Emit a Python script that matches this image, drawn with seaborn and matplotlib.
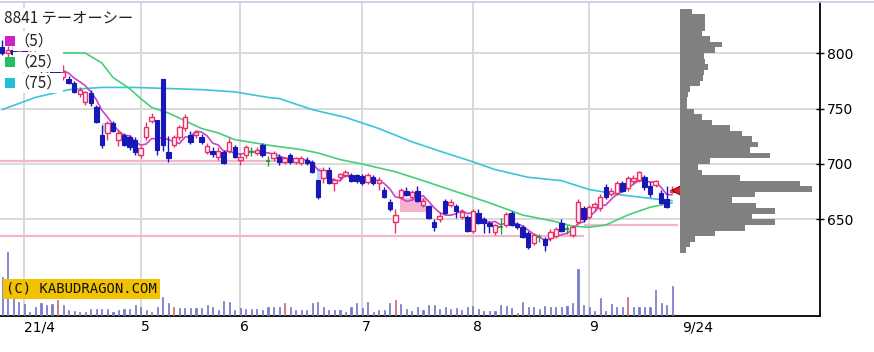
import numpy as np
import pandas as pd
import matplotlib
matplotlib.use("Agg")
import matplotlib.pyplot as plt
from matplotlib.patches import Rectangle
from matplotlib.lines import Line2D
import seaborn as sns

sns.set_theme(style="white")
plt.rcParams["font.family"] = ["Noto Sans CJK JP", "DejaVu Sans"]

# ---------------- data ----------------
title = "8841 テーオーシー"
ma_labels = ["（5）", "（25）", "（75）"]

opens = [805, 800, 803, 798, 802, 798, 800, 790, 784, 787,
         785, 778, 777, 773, 763, 756, 764, 751, 726, 728,
         737, 722, 726, 724, 722, 708, 724, 739, 740, 777,
         711, 717, 724, 732, 726, 726, 724, 711, 712, 706,
         711, 712, 715, 704, 708, 711, 710, 717, 703, 705,
         706, 702, 708, 702, 701, 704, 702, 686, 687, 695,
         683, 688, 690, 690, 690, 689, 684, 688, 683, 677,
         666, 648, 670, 676, 670, 676, 663, 662, 648, 650,
         667, 663, 662, 652, 652, 640, 656, 650, 647, 639,
         643, 645, 656, 646, 643, 638, 629, 634, 632, 633,
         635, 647, 641, 636, 648, 660, 652, 661, 660, 679,
         673, 674, 683, 678, 685, 686, 688, 680, 681, 674,
         668, 675]
highs = [812, 806, 808, 805, 806, 803, 802, 795, 790, 789,
         788, 789, 779, 775, 769, 766, 767, 753, 735, 739,
         739, 731, 728, 726, 724, 716, 738, 746, 740, 777,
         725, 726, 735, 745, 730, 730, 727, 719, 715, 715,
         713, 723, 717, 710, 717, 715, 715, 719, 707, 712,
         709, 706, 710, 706, 707, 706, 704, 686, 697, 697,
         687, 692, 695, 692, 691, 691, 692, 690, 688, 679,
         668, 659, 678, 679, 677, 680, 669, 663, 650, 657,
         668, 668, 664, 659, 654, 659, 659, 652, 649, 646,
         651, 657, 658, 648, 645, 640, 638, 637, 634, 641,
         643, 650, 645, 645, 668, 662, 663, 666, 673, 682,
         678, 685, 685, 689, 690, 694, 690, 684, 686, 677,
         680, 680]
lows = [798, 795, 797, 795, 796, 794, 790, 782, 780, 781,
        781, 776, 772, 764, 760, 753, 752, 737, 714, 722,
        729, 716, 716, 713, 708, 705, 722, 737, 708, 712,
        702, 715, 722, 730, 718, 723, 718, 709, 706, 704,
        700, 710, 705, 699, 705, 707, 708, 706, 698, 703,
        699, 700, 700, 700, 699, 699, 692, 668, 683, 682,
        676, 685, 688, 684, 683, 681, 682, 681, 677, 669,
        658, 638, 668, 671, 668, 666, 661, 650, 640, 648,
        655, 661, 651, 650, 639, 638, 646, 638, 638, 636,
        637, 643, 644, 641, 633, 623, 627, 630, 622, 631,
        633, 639, 637, 634, 646, 648, 650, 658, 658, 668,
        671, 672, 675, 676, 682, 684, 677, 670, 679, 664,
        660, 674]
closes = [800, 803, 799, 802, 798, 800, 792, 786, 787, 783,
          783, 783, 773, 765, 767, 765, 755, 738, 717, 737,
          730, 728, 717, 715, 711, 714, 733, 742, 713, 717,
          705, 724, 733, 742, 720, 729, 720, 716, 709, 712,
          701, 720, 706, 706, 715, 711, 713, 708, 703, 710,
          702, 705, 702, 705, 705, 701, 693, 670, 695, 683,
          686, 691, 693, 685, 685, 683, 690, 683, 686, 670,
          659, 654, 677, 672, 675, 667, 667, 651, 643, 653,
          656, 666, 658, 657, 640, 658, 647, 647, 644, 645,
          643, 655, 645, 643, 634, 625, 636, 634, 627, 639,
          641, 640, 641, 643, 666, 650, 661, 664, 670, 670,
          676, 683, 676, 687, 687, 693, 679, 673, 685, 665,
          661, 677]
volumes = [39, 64, 19, 14, 12, 4, 9, 13, 11, 12,
           16, 11, 6, 5, 4, 4, 7, 7, 7, 7,
           4, 6, 7, 7, 11, 9, 6, 4, 9, 19,
           13, 9, 8, 8, 8, 8, 8, 11, 9, 6,
           15, 14, 6, 8, 7, 7, 7, 6, 9, 9,
           9, 13, 9, 6, 6, 6, 13, 14, 9, 6,
           6, 6, 4, 9, 13, 8, 14, 4, 6, 6,
           13, 16, 12, 7, 5, 9, 6, 11, 11, 7,
           9, 7, 8, 6, 9, 10, 7, 5, 5, 5,
           11, 10, 8, 3, 14, 9, 9, 7, 10, 9,
           9, 9, 10, 13, 47, 11, 9, 5, 18, 5,
           12, 9, 9, 19, 9, 9, 9, 9, 26, 13,
           11, 30]
red_volume_days = [10, 31, 51, 71, 93, 113]

ma25_idx = [7, 15, 18, 20, 23, 25, 27, 30, 33, 36, 39, 42, 48, 54, 57,
            61, 65, 71, 76, 82, 88, 94, 100, 103, 106, 109, 113, 117, 121]
ma25_val = [800, 800, 791, 778, 768, 759, 751, 746, 739, 732, 728, 722, 717,
            713, 710, 704, 700, 693, 685, 675, 665, 654, 648, 644, 643, 645,
            654, 661, 665]
ma75_idx = [0, 6, 12, 18, 24, 30, 36, 42, 48, 50, 56, 62, 68, 74, 80, 85,
            89, 95, 101, 106, 112, 117, 121]
ma75_val = [749, 760, 767, 769, 769, 768, 767, 765, 760, 759, 749, 742, 732,
            720, 710, 702, 695, 688, 685, 677, 672, 669, 667]

month_idx = [4, 25, 43, 65, 85, 106]
month_labels = ["21/4", "5", "6", "7", "8", "9"]
last_label = "9/24"

# support lines: (price, from day, to day)
support_lines = [(703, -0.5, 51), (635, -0.5, 105), (645, 105, 122)]
# price gaps (windows): (from day, to day, low, high, kind)
gaps = [(18.0, 19.6, 729, 737, "down"), (56.9, 57.8, 686, 696, "down"),
        (71.8, 76.5, 657, 669, "up")]

# price-volume profile
profile_low = list(range(620, 840, 5))
profile_vol = [6, 10, 15, 35, 65, 95, 72, 95, 76, 52, 75, 132, 120, 60, 22,
               18, 30, 90, 70, 78, 72, 62, 50, 32, 22, 14, 7, 7, 8, 10, 20,
               23, 24, 28, 25, 24, 35, 42, 30, 22, 25, 25, 25, 12]

price_ticks = [650, 700, 750, 800]

# ---------------- styles ----------------
RED = "#e8306a"
BLUE = "#1818b8"
GREEN = "#20a040"
C_MA5 = "#cc44c4"
C_MA25 = "#44d078"
C_MA75 = "#3cc4d8"
GRID = "#d9d9d9"
PINK = "#f3b6cf"

W, H = 874, 352
fig = plt.figure(figsize=(W / 100, H / 100), dpi=100)
fig.patch.set_facecolor("white")

ax_l, ax_b, ax_w, ax_h = 0, 36 / H, 820 / W, 314 / H
ax = fig.add_axes([ax_l, ax_b, ax_w, ax_h])
ax.set_facecolor("white")
n = len(closes)
idx = np.arange(n)
O = np.array(opens, float); Hh = np.array(highs, float)
L = np.array(lows, float); C = np.array(closes, float)

ax.set_xlim(-0.4, 147.7)
ax.set_ylim(563, 846)

# grid
for m in month_idx:
    ax.axvline(m, color=GRID, lw=1.4, zorder=0)
for p in price_ticks:
    ax.axhline(p, color=GRID, lw=1.4, zorder=0)

# support lines
for price, a, b in support_lines:
    ax.hlines(price, a, b, color=PINK, lw=1.6, zorder=1)

# gap windows
for a, b, lo, hi, kind in gaps:
    ax.add_patch(Rectangle((a, lo), b - a, hi - lo,
                           facecolor="#f4b2cf" if kind == "up" else "#b9d9f2",
                           edgecolor="none", zorder=1))

# moving averages
ma5 = pd.Series(C).rolling(5).mean()
sns.lineplot(x=ma75_idx, y=ma75_val, ax=ax, color=C_MA75, lw=1.2,
             estimator=None, sort=False, legend=False, zorder=2)
sns.lineplot(x=ma25_idx, y=ma25_val, ax=ax, color=C_MA25, lw=1.2,
             estimator=None, sort=False, legend=False, zorder=2)
sns.lineplot(x=idx[4:], y=ma5.values[4:], ax=ax, color=C_MA5, lw=1.2,
             estimator=None, sort=False, legend=False, zorder=2)

# candles
up = C > O
dn = C < O
dj = C == O
wick_col = np.where(up, RED, np.where(dn, BLUE, GREEN))
ax.vlines(idx, L, Hh, colors=wick_col, lw=1.0, zorder=3)
bw = 0.8
ax.bar(idx[up], (C - O)[up], bottom=O[up], width=bw, facecolor="#fff4f7",
       edgecolor=RED, lw=1.0, zorder=4)
ax.bar(idx[dn], (O - C)[dn], bottom=C[dn], width=bw, facecolor=BLUE,
       edgecolor=BLUE, lw=0.8, zorder=4)
ax.hlines(C[dj], idx[dj] - bw / 2, idx[dj] + bw / 2, color=GREEN, lw=1.3, zorder=4)

# current price marker
ax.plot(n - 0.1, C[-1], marker="<", ms=8, color="#e02020", mec="#8a0000",
        mew=0.8, zorder=6, clip_on=False)

# axes styling
for s in ["left", "top"]:
    ax.spines[s].set_visible(False)
for s in ["right", "bottom"]:
    ax.spines[s].set_color("black")
    ax.spines[s].set_linewidth(1.3)

# volume on a twin axis
ax_v = ax.twinx()
vcol = ["#cc6a66" if i in red_volume_days else "#7676c6" for i in idx]
ax_v.bar(idx, volumes, width=0.2, color=vcol, edgecolor=vcol, lw=0.5, zorder=2)
ax_v.set_ylim(0, max(volumes) * 4.9)
ax_v.yaxis.set_visible(False)
for s in ax_v.spines.values():
    s.set_visible(False)

ax.yaxis.tick_right()
ax.set_yticks(price_ticks)
ax.set_yticklabels([str(p) for p in price_ticks], fontsize=10,
                   family="DejaVu Sans")
ax.tick_params(axis="y", direction="inout", length=6, width=1, pad=2,
               colors="black", right=True, left=False)
xt = month_idx + [n + 0.8]
ax.set_xticks(xt)
ax.set_xticklabels(month_labels + [last_label], fontsize=10, family="DejaVu Sans")
for lbl in ax.get_xticklabels():
    lbl.set_horizontalalignment("left")
ax.tick_params(axis="x", length=0, pad=3, colors="black")
ax.grid(False)

# price-volume profile
ax_p = fig.add_axes([680 / W, ax_b, 140 / W, ax_h])
ax_p.barh(np.array(profile_low) + 2.5, profile_vol, height=5, color="#808080",
          edgecolor="none")
ax_p.set_ylim(ax.get_ylim())
ax_p.set_xlim(0, 140)
ax_p.axis("off")
ax_p.patch.set_alpha(0)

# top border
fig.add_artist(Line2D([0, 1], [1 - 1.5 / H] * 2, color="#c9c9e2", lw=1.2))

# legend block
def fx(x):
    return x / W

def fy(y):
    return 1 - y / H

fig.text(fx(4), fy(18), title, fontsize=11, va="center", ha="left",
         color="#222222", bbox=dict(facecolor="white", edgecolor="none", pad=1))
for k, (lab, col) in enumerate(zip(ma_labels, ["#cc22cc", "#22c060", "#22c0d6"])):
    yc = 41 + 21 * k
    fig.text(fx(14), fy(yc), lab, fontsize=11, va="center", ha="left",
             color="#222222",
             bbox=dict(facecolor="white", edgecolor="none", pad=1))
    fig.add_artist(Rectangle((fx(5), fy(yc + 5)), 10 / W, 10 / H,
                             transform=fig.transFigure, facecolor=col,
                             edgecolor="none", zorder=5))

# watermark
fig.text(fx(6), fy(289), "(C) KABUDRAGON.COM", fontsize=10,
         family="DejaVu Sans Mono", va="center", ha="left", color="#111111",
         bbox=dict(facecolor="#f2c200", edgecolor="none", pad=2))

fig.savefig("out.png", dpi=100)
